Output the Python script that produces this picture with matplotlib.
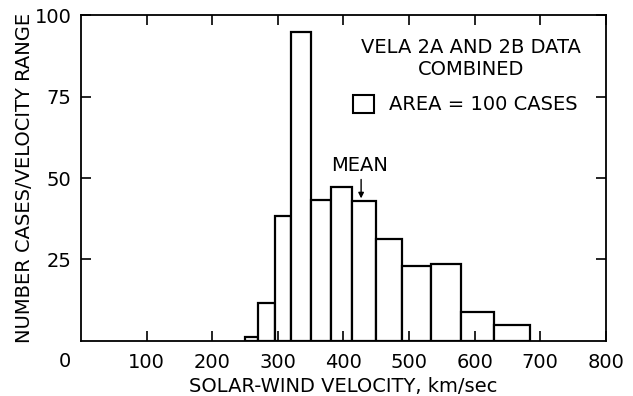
import matplotlib
matplotlib.use("Agg")
import matplotlib.pyplot as plt
import numpy as np

# bin edges (km/sec) and bar heights (cases per velocity range)
bin_edges = [250, 270, 295, 320, 350, 381, 413, 450, 490, 533, 580, 630, 685]
heights = [1.1, 11.7, 38.3, 94.9, 43.3, 47.3, 42.9, 31.2, 23.1, 23.6, 8.8, 5.0]
mean_velocity = 427
x_ticks = [100, 200, 300, 400, 500, 600, 700, 800]
y_ticks = [25, 50, 75, 100]

FS = 14
plt.rcParams['font.family'] = ['DejaVu Sans']
fig = plt.figure(figsize=(6.33, 3.96), dpi=100)
ax = fig.add_axes([0.128, 0.139, 0.829, 0.823])

edges = np.array(bin_edges)
widths = np.diff(edges)
ax.bar(edges[:-1], heights, width=widths, align='edge', facecolor='white',
       edgecolor='black', linewidth=1.6)

ax.set_xlim(0, 800)
ax.set_ylim(0, 100)
ax.set_xticks(x_ticks)
ax.set_yticks(y_ticks)
ax.set_xticklabels([str(v) for v in x_ticks], fontsize=FS)
ax.set_yticklabels([str(v) for v in y_ticks], fontsize=FS)
ax.tick_params(axis='both', direction='in', length=7, width=1.2, top=True, right=True)
ax.tick_params(axis='x', pad=9)
ax.tick_params(axis='y', pad=7)
for s in ax.spines.values():
    s.set_linewidth(1.3)

ax.text(-24, -0.064, '0', transform=ax.get_xaxis_transform(), fontsize=FS,
        ha='center', va='center')

ax.set_xlabel('SOLAR-WIND VELOCITY, km/sec', fontsize=FS, labelpad=3)
ax.set_ylabel('NUMBER CASES/VELOCITY RANGE', fontsize=FS, labelpad=0)

# mean annotation
mean_h = np.array(heights)[np.searchsorted(edges, mean_velocity) - 1]
ax.annotate('', xy=(mean_velocity, mean_h), xytext=(mean_velocity, mean_h + 7.5),
            arrowprops=dict(arrowstyle='-|>', color='black', lw=1.0, mutation_scale=8))
ax.text(mean_velocity - 2, mean_h + 11, 'MEAN', fontsize=FS, ha='center', va='center')

# legend text and box
ax.text(594, 89.9, 'VELA 2A AND 2B DATA', fontsize=FS, ha='center', va='center')
ax.text(594, 83.4, 'COMBINED', fontsize=FS, ha='center', va='center')
ax.add_patch(plt.Rectangle((414, 69.8), 32.5, 5.8, facecolor='white', edgecolor='black', lw=1.5))
ax.text(470, 72.6, 'AREA = 100 CASES', fontsize=FS, ha='left', va='center')

fig.savefig('out.png', dpi=100)
